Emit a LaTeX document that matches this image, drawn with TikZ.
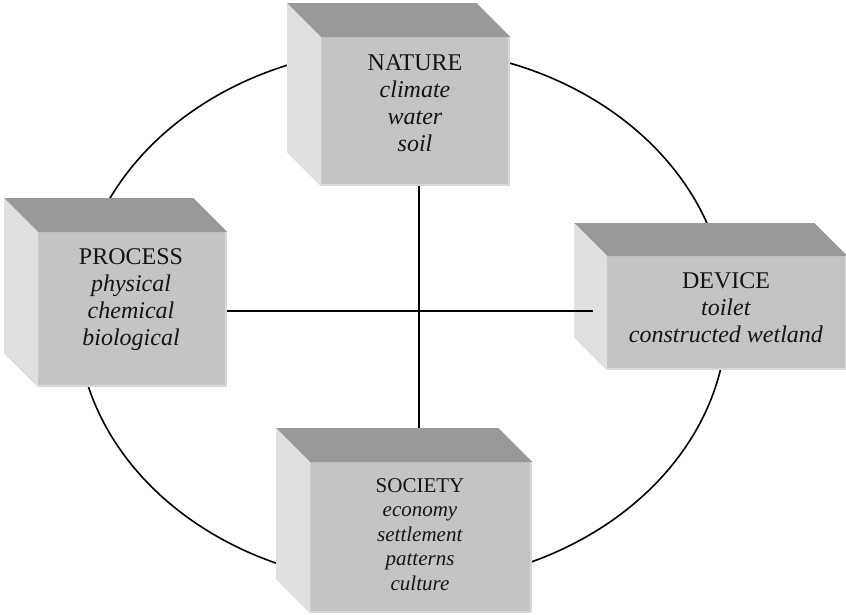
\documentclass[tikz,border=0pt]{standalone}
\usepackage{fontspec}
\setmainfont{Liberation Serif}[ItalicFont={Liberation Serif Italic}]
\usetikzlibrary{calc}
\definecolor{frontgray}{RGB}{196,196,196}
\definecolor{topgray}{RGB}{153,153,153}
\definecolor{sidegray}{RGB}{224,224,224}
\definecolor{edgegray}{RGB}{216,216,216}
\definecolor{inkc}{RGB}{20,20,20}
\newcommand\cubefaces[2]{%
  \fill[topgray] (#1.north west) -- ++(-#2,-#2) -- ($(#1.north east)+(-#2,-#2)$) -- (#1.north east) -- cycle;
  \fill[sidegray] (#1.north west) -- ++(-#2,-#2) -- ($(#1.south west)+(-#2,-#2)$) -- (#1.south west) -- cycle;
  \draw[edgegray, line width=2pt] ([xshift=-1pt]#1.north east) -- ([xshift=-1pt,yshift=1pt]#1.south east) -- ([yshift=1pt]#1.south west);
}
\begin{document}
\begin{tikzpicture}[x=1pt,y=-1pt,
  face/.style={fill=frontgray, draw=none, inner sep=0pt, anchor=north west},
  bigtext/.style={anchor=north, inner sep=0pt, align=center, text=inkc, font=\fontsize{24}{27}\selectfont},
  smalltext/.style={anchor=north, inner sep=0pt, align=center, text=inkc, font=\fontsize{21}{24.5}\selectfont},
  link/.style={draw=black, line width=1.4pt}]
\useasboundingbox (0,0) rectangle (846,614);
\fill[white] (0,0) rectangle (846,614);

% ring
\draw[link, line width=1.6pt] (402,316) ellipse [x radius=325, y radius=268];

% NATURE
\node[face, minimum width=189pt, minimum height=149pt] (natF) at (321,37) {};
\cubefaces{natF}{34}
\node[bigtext] (natT) at (415,54) {NATURE\\\textit{climate}\\\textit{water}\\\textit{soil}};

% PROCESS
\node[face, minimum width=189pt, minimum height=155pt] (procF) at (38,232) {};
\cubefaces{procF}{34}
\node[bigtext] (procT) at (131,248.5) {PROCESS\\\textit{physical}\\\textit{chemical}\\\textit{biological}};

% DEVICE
\node[face, minimum width=240pt, minimum height=114pt] (devF) at (607,256) {};
\cubefaces{devF}{33}
\node[bigtext] (devT) at (726,272.5) {DEVICE\\\textit{toilet}\\\textit{constructed wetland}};

% SOCIETY
\node[face, minimum width=222pt, minimum height=151pt] (socF) at (310,462) {};
\cubefaces{socF}{34}
\node[smalltext] (socT) at (420,478) {SOCIETY\\\textit{economy}\\\textit{settlement}\\\textit{patterns}\\\textit{culture}};

% cross
\coordinate (socTop) at (419,428);
\coordinate (devIn) at (593,311);
\draw[link] (natF.south -| socTop) -- (socTop);
\draw[link] (procF.east |- devIn) -- (devIn);
\end{tikzpicture}
\end{document}
